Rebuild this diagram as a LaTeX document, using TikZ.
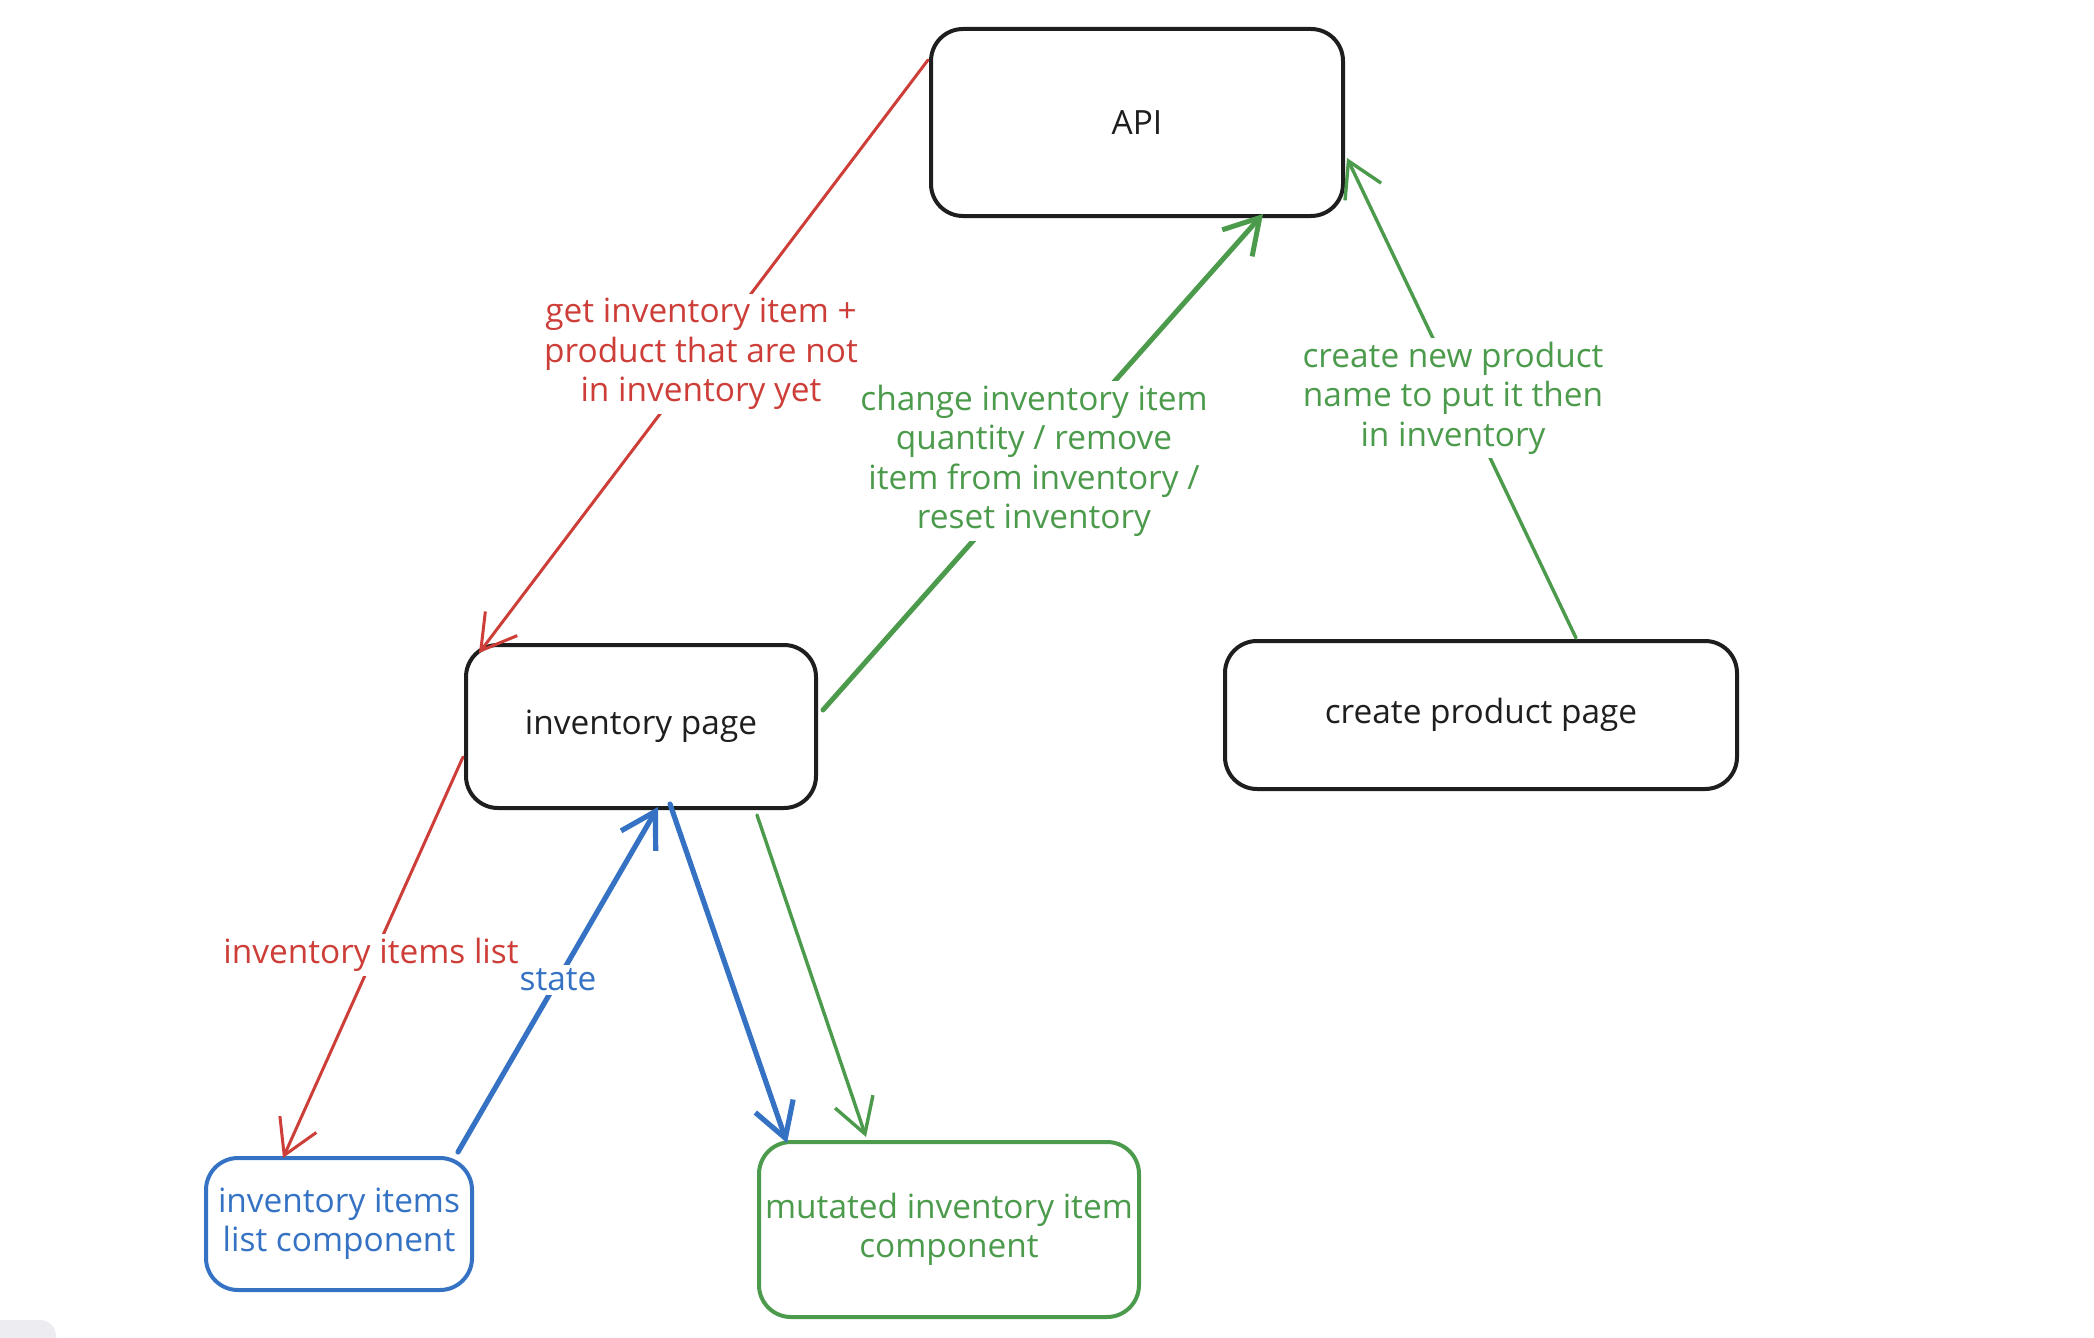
\documentclass[tikz,border=0pt]{standalone}
\usepackage{fontspec}
\setmainfont{Open Sans}
\usetikzlibrary{arrows.meta}
\definecolor{xred}{HTML}{CD3E38}
\definecolor{xgreen}{HTML}{4C9B4C}
\definecolor{xblue}{HTML}{3572C4}
\definecolor{xblack}{HTML}{1E1E1E}
\definecolor{xgrey}{HTML}{ECECF1}
\begin{document}
\begin{tikzpicture}[x=0.5pt,y=-0.5pt,
  every node/.style={font=\fontsize{16.7}{19.7}\selectfont, inner sep=0pt},
  box/.style={draw=xblack, line width=2pt, rounded corners=16pt, text=xblack, anchor=center},
  cbox/.style={line width=2pt, rounded corners=16pt, anchor=center},
  lbl/.style={fill=white, align=center, inner sep=2pt},
  arr/.style={-{Straight Barb[length=17pt,width=20pt]}, line cap=round, line join=round},
]
\useasboundingbox (0,0) rectangle (2094,1338);
\fill[white] (0,0) rectangle (2094,1338);
\begin{scope}
  \clip (0,0) rectangle (2094,1338);
  \fill[xgrey, rounded corners=8pt] (-30,1320) rectangle (56,1370);
\end{scope}

% boxes
\node[box, minimum width=206pt, minimum height=93.5pt] (api) at (1137,122.5) {API};
\node[box, minimum width=175pt, minimum height=81.5pt] (inv) at (641,726.5) {inventory page};
\node[box, minimum width=256pt, minimum height=74pt] (cpp) at (1481,715) {create product page};
\node[cbox, draw=xblue, text=xblue, align=center, minimum width=133pt, minimum height=66pt] (ilc) at (339,1224) {inventory items\\list component};
\node[cbox, draw=xgreen, text=xgreen, align=center, minimum width=190pt, minimum height=87.5pt] (mic) at (949,1229.5) {mutated inventory item\\component};

% endpoint coordinates
\coordinate (r1s) at (928,60);
\coordinate (r1e) at (479,653);
\coordinate (g1s) at (823,710);
\coordinate (g1e) at (1263,214);
\coordinate (g2s) at (1576,638);
\coordinate (g2e) at (1347,158);
\coordinate (r2s) at (463,757);
\coordinate (r2e) at (283,1158);
\coordinate (b1s) at (458,1152);
\coordinate (b1e) at (658,807);
\coordinate (b2s) at (670,804);
\coordinate (b2e) at (787,1143);
\coordinate (g3s) at (757,815);
\coordinate (g3e) at (866,1137);

% connectors
\draw[arr, xred, line width=1.5pt] (r1s) -- (r1e);
\draw[arr, xgreen, line width=2.5pt] (g1s) -- (g1e);
\draw[arr, xgreen, line width=1.7pt] (g2s) -- (g2e);
\draw[arr, xred, line width=1.5pt] (r2s) -- (r2e);
\draw[arr, xblue, line width=2.6pt] (b1s) -- (b1e);
\draw[arr, xblue, line width=2.6pt] (b2s) -- (b2e);
\draw[arr, xgreen, line width=1.7pt] (g3s) -- (g3e);

% labels
\node[lbl, text=xred] (l1) at (701,354) {get inventory item +\\product that are not\\in inventory yet};
\node[lbl, text=xgreen] (l2) at (1034,461) {change inventory item\\quantity / remove\\item from inventory /\\reset inventory};
\node[lbl, text=xgreen] (l3) at (1453,398) {create new product\\name to put it then\\in inventory};
\node[lbl, text=xred] (l4) at (371,955) {inventory items list};
\node[lbl, text=xblue] (l5) at (558,980) {state};
\end{tikzpicture}
\end{document}
